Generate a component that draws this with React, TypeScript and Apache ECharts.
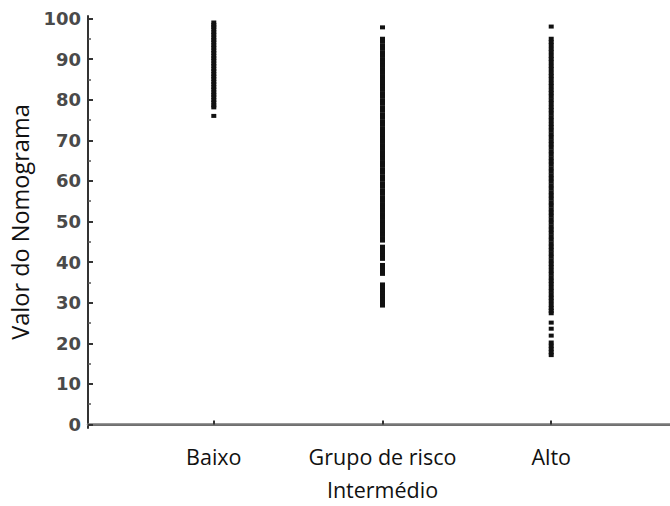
import React, { useEffect, useRef } from "react";
import * as echarts from "echarts";

const categories = ["Baixo", "Grupo de risco\nIntermédio", "Alto"];
const yTickValues = [0, 10, 20, 30, 40, 50, 60, 70, 80, 90, 100];
const yMinorTickValues = [5, 15, 25, 35, 45, 55, 65, 75, 85, 95];

const baixo = [
  99, 98.4, 97.9, 97.3, 96.6, 96, 95.3, 94.7, 94.1, 93.4, 92.8, 92.1, 91.5, 90.8,
  90.2, 89.6, 88.9, 88.3, 87.6, 87, 86.3, 85.7, 85.1, 84.4, 83.8, 83.1, 82.5,
  81.8, 81.2, 80.6, 79.9, 79.3, 78.6, 78.1, 76,
];

const intermedio = [
  97.8, 95, 94.3, 93.4, 92.6, 91.7, 90.9, 90, 89.2, 88.3, 87.5, 86.6, 85.8, 84.9,
  84.1, 83.2, 82.4, 81.5, 80.7, 79.8, 79, 78.1, 77.3, 76.4, 75.6, 74.7, 73.9, 73,
  72.2, 71.3, 70.5, 69.6, 68.8, 67.9, 67.1, 66.2, 65.4, 64.5, 63.7, 62.8, 62,
  61.1, 60.3, 59.4, 58.6, 57.7, 56.9, 56, 55.2, 54.3, 53.5, 52.6, 51.8, 50.9,
  50.1, 49.2, 48.4, 47.5, 46.7, 45.9, 45.3, 43.8, 43.1, 42.3, 41.6, 40.8, 39.3,
  38.6, 37.8, 37.1, 34.5, 33.8, 33, 32.3, 31.5, 30.8, 30, 29.3,
];

const alto = [
  98, 95, 94.2, 93.4, 92.5, 91.7, 90.8, 90, 89.2, 88.3, 87.5, 86.6, 85.8, 85,
  84.1, 83.3, 82.4, 81.6, 80.8, 79.9, 79.1, 78.2, 77.4, 76.6, 75.7, 74.9, 74,
  73.2, 72.4, 71.5, 70.7, 69.8, 69, 68.2, 67.3, 66.5, 65.6, 64.8, 64, 63.1, 62.3,
  61.4, 60.6, 59.8, 58.9, 58.1, 57.2, 56.4, 55.6, 54.7, 53.9, 53, 52.2, 51.4,
  50.5, 49.7, 48.8, 48, 47.2, 46.3, 45.5, 44.6, 43.8, 43, 42.1, 41.3, 40.4, 39.6,
  38.8, 37.9, 37.1, 36.2, 35.4, 34.6, 33.7, 32.9, 32, 31.2, 30.4, 29.5, 28.7,
  28, 27.4, 25.1, 23.6, 21.9, 20.2, 19.4, 18.6, 17.8, 17.1,
];

const groups = [baixo, intermedio, alto];

export default function App() {
  const ref = useRef<HTMLDivElement>(null);
  useEffect(() => {
    if (!ref.current) return;
    const chart = echarts.init(ref.current, null, { renderer: "svg" });
    const yMin = -0.85;
    const yMax = 100.6;
    const xMin = 0.2544;
    const xMax = 3.704;
    chart.setOption({
      animation: false,
      backgroundColor: "#ffffff",
      grid: { left: 87, top: 16, right: 0, bottom: 70, containLabel: false },
      xAxis: [
        {
          type: "value",
          min: xMin,
          max: xMax,
          position: "bottom",
          splitLine: { show: false },
          axisLine: { show: true, lineStyle: { color: "#555", width: 2 } },
          axisTick: {
            show: true,
            inside: true,
            length: 4,
            customValues: [1, 2, 3],
            lineStyle: { color: "#333", width: 2 },
          },
          axisLabel: {
            show: true,
            customValues: [1, 2, 3],
            formatter: (v: number) => categories[Math.round(v) - 1] ?? "",
            fontFamily: "Open Sans",
            fontSize: 21.5,
            color: "#111",
            lineHeight: 33,
            margin: 12,
          },
        },
        {
          type: "value",
          min: xMin,
          max: xMax,
          position: "top",
          splitLine: { show: false },
          axisLine: { show: true, lineStyle: { color: "#777", width: 2.5 } },
          axisTick: { show: false },
          axisLabel: { show: false },
        },
      ],
      yAxis: [
        {
          type: "value",
          min: yMin,
          max: yMax,
          name: "Valor do Nomograma",
          nameLocation: "middle",
          nameRotate: 90,
          nameGap: 56,
          nameTextStyle: { fontFamily: "Open Sans", fontSize: 23.5, color: "#111" },
          splitLine: { show: false },
          axisLine: { show: true, lineStyle: { color: "#333", width: 2 } },
          axisTick: {
            show: true,
            inside: true,
            length: 5,
            customValues: yTickValues,
            lineStyle: { color: "#333", width: 2 },
          },
          axisLabel: {
            show: true,
            customValues: yTickValues,
            fontFamily: "DejaVu Sans",
            fontWeight: "bold",
            fontSize: 18,
            color: "#4a4a4a",
            margin: 7,
          },
        },
        {
          type: "value",
          min: yMin,
          max: yMax,
          position: "left",
          splitLine: { show: false },
          axisLine: { show: false },
          axisTick: {
            show: true,
            inside: true,
            length: 3,
            customValues: yMinorTickValues,
            lineStyle: { color: "#555", width: 1.5 },
          },
          axisLabel: { show: false },
        },
      ],
      series: groups.map((vals, i) => ({
        type: "scatter",
        xAxisIndex: 0,
        yAxisIndex: 0,
        symbol: "rect",
        symbolSize: [5, 4],
        itemStyle: { color: "#111", opacity: 1 },
        data: vals.map((v) => [i + 1, v]),
      })),
    });
    return () => chart.dispose();
  }, []);
  return (
    <div
      ref={ref}
      style={{ position: "fixed", left: 0, top: 0, width: 670, height: 506 }}
    />
  );
}
